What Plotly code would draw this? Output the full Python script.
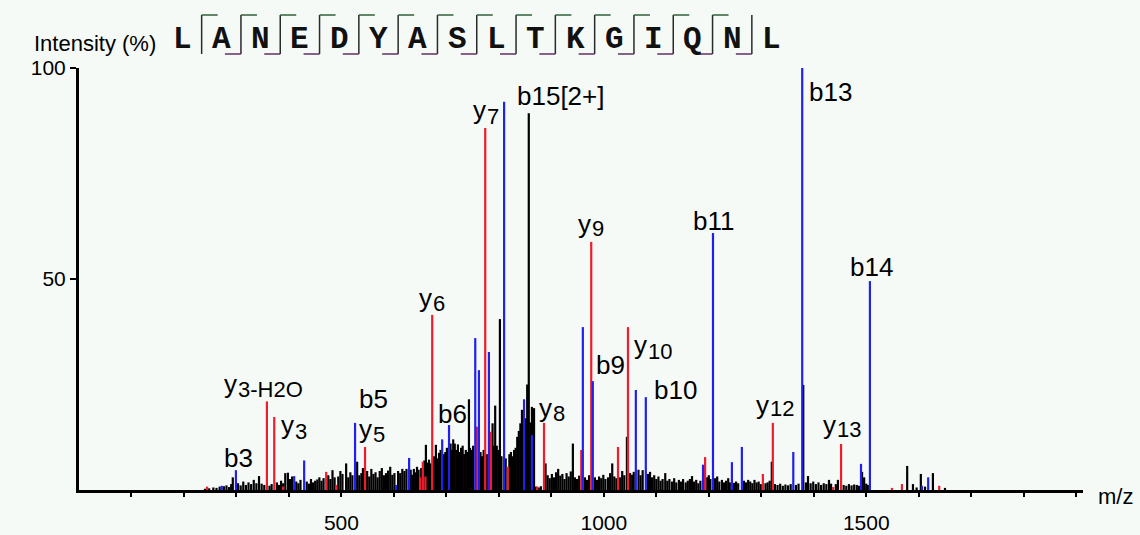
import plotly.graph_objects as go

# ---------------- data ----------------
sequence = "LANEDYASLTKGIQNL"

black_mz = [240, 248, 256, 262, 268, 276, 281, 286, 290, 293, 303, 308, 313, 318, 323, 328, 333, 338, 343, 348, 353, 363, 367,
            377, 381, 385, 389, 393, 398, 402, 406, 414, 418, 422, 434, 438, 442, 446, 450, 454, 458, 462, 466, 475, 479, 483,
            487, 494, 498, 502, 509, 513, 517, 521,
            530, 534, 538, 541, 549, 553, 557, 561, 565, 569, 573, 577, 581, 585, 589, 593, 597, 601, 608, 612, 616, 620, 624,
            632, 635, 638, 641, 644, 647, 652, 658, 661, 664, 667, 670, 676, 680, 683, 686, 689, 695, 698, 701, 708, 711, 713,
            716, 719, 722, 725, 728, 731, 734, 737, 740, 743,
            745, 748, 751, 765, 768, 771, 777, 788, 790, 793, 796, 799, 802, 805, 813, 820, 823, 826, 829, 832, 835, 838, 841,
            844, 846, 851, 854, 857, 860, 863, 867, 871, 876, 880,
            889, 893, 897, 901, 905, 909, 913, 917, 921, 925, 929, 933, 937, 941, 945, 949, 953, 964, 968, 972, 983, 987, 991,
            995, 999, 1003, 1008, 1012, 1016, 1020, 1024, 1031, 1035, 1039, 1044, 1050, 1054, 1057,
            1066, 1070, 1074, 1084, 1088, 1092, 1096, 1100, 1104, 1108, 1112, 1117, 1121, 1125, 1130, 1134, 1138, 1143, 1147,
            1151, 1156, 1160, 1164, 1168, 1172, 1176, 1180, 1184, 1197, 1200, 1203, 1212, 1216, 1220, 1225, 1229, 1233, 1237, 1240,
            1248, 1252, 1256, 1267, 1271, 1275, 1279, 1283, 1287, 1291, 1295, 1299, 1308, 1312, 1316, 1320, 1326, 1331, 1336,
            1341, 1346, 1351, 1356, 1366, 1371, 1380, 1385, 1389, 1394, 1399, 1404, 1409, 1414, 1419, 1424, 1429, 1433, 1442,
            1446, 1457, 1462, 1467, 1472, 1477, 1482, 1486, 1492, 1496, 1500, 1503,
            1578, 1589, 1596, 1604, 1612, 1627, 1650]
black_int = [0.3, 0.4, 0.6, 0.5, 0.8, 0.9, 1.1, 0.7, 1.4, 3.0, 1.6, 1.1, 2.0, 1.2, 1.8, 1.4, 2.4, 1.6, 3.3, 1.5, 1.2, 1.0, 1.4,
             1.8, 1.2, 2.2, 1.6, 4.0, 4.1, 2.6, 3.2, 2.0, 1.6, 2.4, 2.0, 1.5, 2.6, 1.8, 2.2, 2.5, 3.0, 2.2, 2.8, 3.5, 2.6, 4.7,
             3.0, 3.2, 4.5, 3.8, 6.3, 3.0, 4.2, 3.5,
             6.7, 3.5, 4.0, 5.2, 4.5, 3.2, 5.0, 3.8, 4.2, 3.0, 4.5, 5.2, 3.5, 4.0, 4.6, 5.5, 3.6, 4.0, 4.5, 4.0, 5.0, 4.5, 5.0,
             4.8, 3.6, 5.0, 4.2, 5.5, 4.8, 5.2, 7.0, 10.7, 6.5, 7.2, 6.3, 8.0, 10.7, 7.5, 8.8, 9.5, 8.5, 9.0, 10.0, 11.0, 9.5, 12.0,
             11.0, 9.5, 10.8, 9.0, 10.0, 10.5, 8.5, 9.5, 9.0, 21.5,
             10.0, 9.5, 10.5, 9.0, 8.0, 9.5, 8.5, 15.8, 10.5, 20.0, 10.5, 9.5, 40.5, 8.0, 7.5, 8.5, 9.0, 8.0, 9.5, 10.0, 12.6, 14.0, 15.8,
             19.0, 16.5, 17.0, 25.0, 89.3, 16.0, 19.7, 19.4, 0.8, 0.6, 0.9,
             6.3, 3.5, 2.8, 3.8, 3.0, 4.2, 5.0, 3.4, 3.8, 2.6, 4.0, 3.2, 4.4, 11.0, 3.0, 2.6, 3.4, 3.0, 2.4, 3.5, 3.0, 2.4, 3.2,
             2.8, 3.6, 2.6, 3.0, 4.0, 6.3, 3.2, 2.8, 3.0, 4.5, 3.5, 12.6, 4.0, 3.6, 4.3,
             4.8, 3.5, 4.7, 3.8, 4.3, 3.0, 3.5, 2.6, 3.2, 2.2, 2.6, 4.0, 2.2, 2.6, 2.0, 2.8, 1.8, 2.4, 2.0,
             2.6, 1.8, 2.2, 2.6, 3.3, 2.0, 2.4, 1.6, 2.2, 3.0, 3.5, 2.6, 2.8, 3.2, 2.0, 2.4, 1.8, 2.2, 2.8, 1.8,
             1.7, 2.0, 1.6, 2.2, 1.8, 2.4, 2.0, 1.6, 2.4, 1.8, 2.0, 1.4, 1.6, 1.8, 2.2, 6.7, 1.4, 1.2, 1.5,
             1.0, 1.3, 1.1, 1.4, 1.2, 1.5, 24.9, 1.8, 3.3, 1.6, 2.0, 1.4, 1.8, 1.2, 1.6, 1.4, 2.4, 1.5, 1.4,
             2.4, 1.2, 1.0, 1.4, 1.1, 1.3, 1.2, 1.0, 4.3, 3.0, 1.5, 1.2,
             5.7, 1.4, 0.6, 3.8, 0.8, 4.0, 0.5]

blue_mz = [272, 299, 410, 429, 526, 604, 629, 692, 705, 755, 762, 781, 810, 848, 863, 960, 979, 1061, 1080,
           1189, 1208, 1244, 1263, 1361, 1378, 1490, 1507, 1606, 1618]
blue_int = [1.0, 4.7, 3.3, 7.0, 15.9, 1.2, 7.6, 12.0, 15.4, 36.0, 28.4, 32.7, 92.0, 21.5, 13.0, 38.6, 25.8, 23.7, 22.0,
            6.0, 60.9, 6.6, 10.2, 9.0, 100.0, 6.2, 49.5, 1.0, 3.0]

red_mz = [244, 358, 372, 389, 471, 490, 545, 650, 655, 660, 673, 758, 774, 785, 817, 873, 886, 957, 976, 1027, 1046,
          1193, 1303, 1322, 1437, 1452, 1549, 1568, 1639]
red_int = [0.8, 21.0, 17.3, 0.8, 4.3, 1.2, 10.2, 3.0, 6.7, 3.2, 41.5, 15.0, 85.8, 13.8, 5.5, 0.8, 15.9, 9.5, 58.8, 10.2, 38.6,
           7.8, 3.8, 15.9, 0.7, 10.9, 0.5, 1.4, 1.0]

# b-ion labels: (text, m/z of left edge, intensity at text centre)
b_labels = [("b3", 274, 7.6), ("b5", 532, 21.5), ("b6", 682, 18.0), ("b15[2+]", 833, 93.4),
            ("b9", 983, 29.6), ("b10", 1094, 23.7), ("b11", 1168, 63.7), ("b13", 1389, 94.3), ("b14", 1467, 52.8)]
# y-ion labels: (subscript, m/z of left edge, y-centre of "y", y-centre of subscript)
y_labels = [("3-H2O", 274, 25.1, 23.9), ("3", 383, 15.4, 13.9), ("5", 532, 14.4, 13.2), ("6", 646, 45.5, 44.3),
            ("7", 749, 90.0, 88.4), ("8", 875, 19.4, 18.2), ("9", 949, 63.0, 62.0), ("10", 1056, 34.4, 32.9),
            ("12", 1288, 20.1, 19.2), ("13", 1416, 15.4, 14.4)]

x_tickvals = [100, 200, 300, 400, 500, 600, 700, 800, 900, 1000, 1100, 1200, 1300, 1400, 1500, 1600, 1700, 1800, 1900]
x_ticktext = ["", "", "", "", "500", "", "", "", "", "1000", "", "", "", "", "1500", "", "", "", ""]
y_tickvals = [50, 100]

# ---------------- figure ----------------
W, H = 1140, 535
ML, MR, MT, MB = 79, 57, 68, 45
PW, PH = W - ML - MR, H - MT - MB
BG = "#f6faf7"
SANS = "Liberation Sans, Arial, sans-serif"


def stems(mz, inten):
    xs, ys = [], []
    for m, h in zip(mz, inten):
        xs += [m, m, None]
        ys += [0, h, None]
    return xs, ys


def px(x):
    return (x - ML) / PW


def py(y):
    return (H - MB - y) / PH


fig = go.Figure()
for mz, it, col, w in [(black_mz, black_int, "#000000", 2.2),
                       (red_mz, red_int, "#ee1c2c", 2.2),
                       (blue_mz, blue_int, "#2020ee", 2.2)]:
    xs, ys = stems(mz, it)
    fig.add_trace(go.Scatter(x=xs, y=ys, mode="lines", line=dict(color=col, width=w),
                             hoverinfo="skip", showlegend=False))

ann = []
for t, x, y in b_labels:
    ann.append(dict(x=x, y=y, xref="x", yref="y", text=t, showarrow=False, xanchor="left", yanchor="middle",
                    borderpad=0, font=dict(family=SANS, size=26, color="black")))
for sub, x, y, ys in y_labels:
    ann.append(dict(x=x, y=y, xref="x", yref="y", text="y", showarrow=False, xanchor="left", yanchor="middle",
                    borderpad=0, font=dict(family=SANS, size=26, color="black")))
    ann.append(dict(x=x, y=ys, xref="x", yref="y", text=sub, showarrow=False, xanchor="left", yanchor="middle",
                    borderpad=0, xshift=14, font=dict(family=SANS, size=22, color="black")))

ann.append(dict(x=px(32), y=py(43), xref="paper", yref="paper", text="Intensity (%)", showarrow=False,
                xanchor="left", yanchor="middle", font=dict(family=SANS, size=22, color="black")))
ann.append(dict(x=px(1096), y=py(497), xref="paper", yref="paper", text="m/z", showarrow=False,
                xanchor="left", yanchor="middle", font=dict(family=SANS, size=22, color="black")))

# peptide sequence with fragmentation markers
step = 39.3
first_c = 182
for i, aa in enumerate(sequence):
    ann.append(dict(x=px(first_c + i * step), y=py(40), xref="paper", yref="paper", text="<b>%s</b>" % aa,
                    showarrow=False, xanchor="center", yanchor="middle",
                    font=dict(family="Liberation Mono, Courier New, monospace", size=31, color="#111111")))

shapes = []
n_sep = len(sequence) - 1
hook = 16
top_y, bot_y = 15, 54
for i in range(n_sep):
    sx = first_c + step / 2 + i * step
    shapes.append(dict(type="line", xref="paper", yref="paper", x0=px(sx), x1=px(sx), y0=py(top_y), y1=py(bot_y),
                       line=dict(color="#2a2a2a", width=1.5)))
    if i < n_sep - 1:
        shapes.append(dict(type="line", xref="paper", yref="paper", x0=px(sx), x1=px(sx + hook), y0=py(top_y),
                           y1=py(top_y), line=dict(color="#2f5f3a", width=1.5)))
    if i > 0:
        shapes.append(dict(type="line", xref="paper", yref="paper", x0=px(sx - hook), x1=px(sx), y0=py(bot_y),
                           y1=py(bot_y), line=dict(color="#5f2f62", width=1.5)))

fig.update_layout(
    width=W, height=H, margin=dict(l=ML, r=MR, t=MT, b=MB, autoexpand=False),
    paper_bgcolor=BG, plot_bgcolor=BG,
    annotations=ann, shapes=shapes, showlegend=False,
    xaxis=dict(range=[0, 1913], showgrid=False, zeroline=False, showline=True, linecolor="black", linewidth=3,
               tickmode="array", tickvals=x_tickvals, ticktext=x_ticktext, ticks="outside", ticklen=4,
               tickwidth=1.5, tickcolor="black", ticklabelstandoff=8, automargin=False,
               tickfont=dict(family=SANS, size=21, color="black"), fixedrange=True),
    yaxis=dict(range=[0, 100], showgrid=False, zeroline=False, showline=True, linecolor="black", linewidth=3,
               tickmode="array", tickvals=y_tickvals, ticks="outside", ticklen=6, tickwidth=2, tickcolor="black",
               ticklabelstandoff=0, automargin=False, tickfont=dict(family=SANS, size=21, color="black"),
               fixedrange=True),
)

fig.write_html("out.html")
